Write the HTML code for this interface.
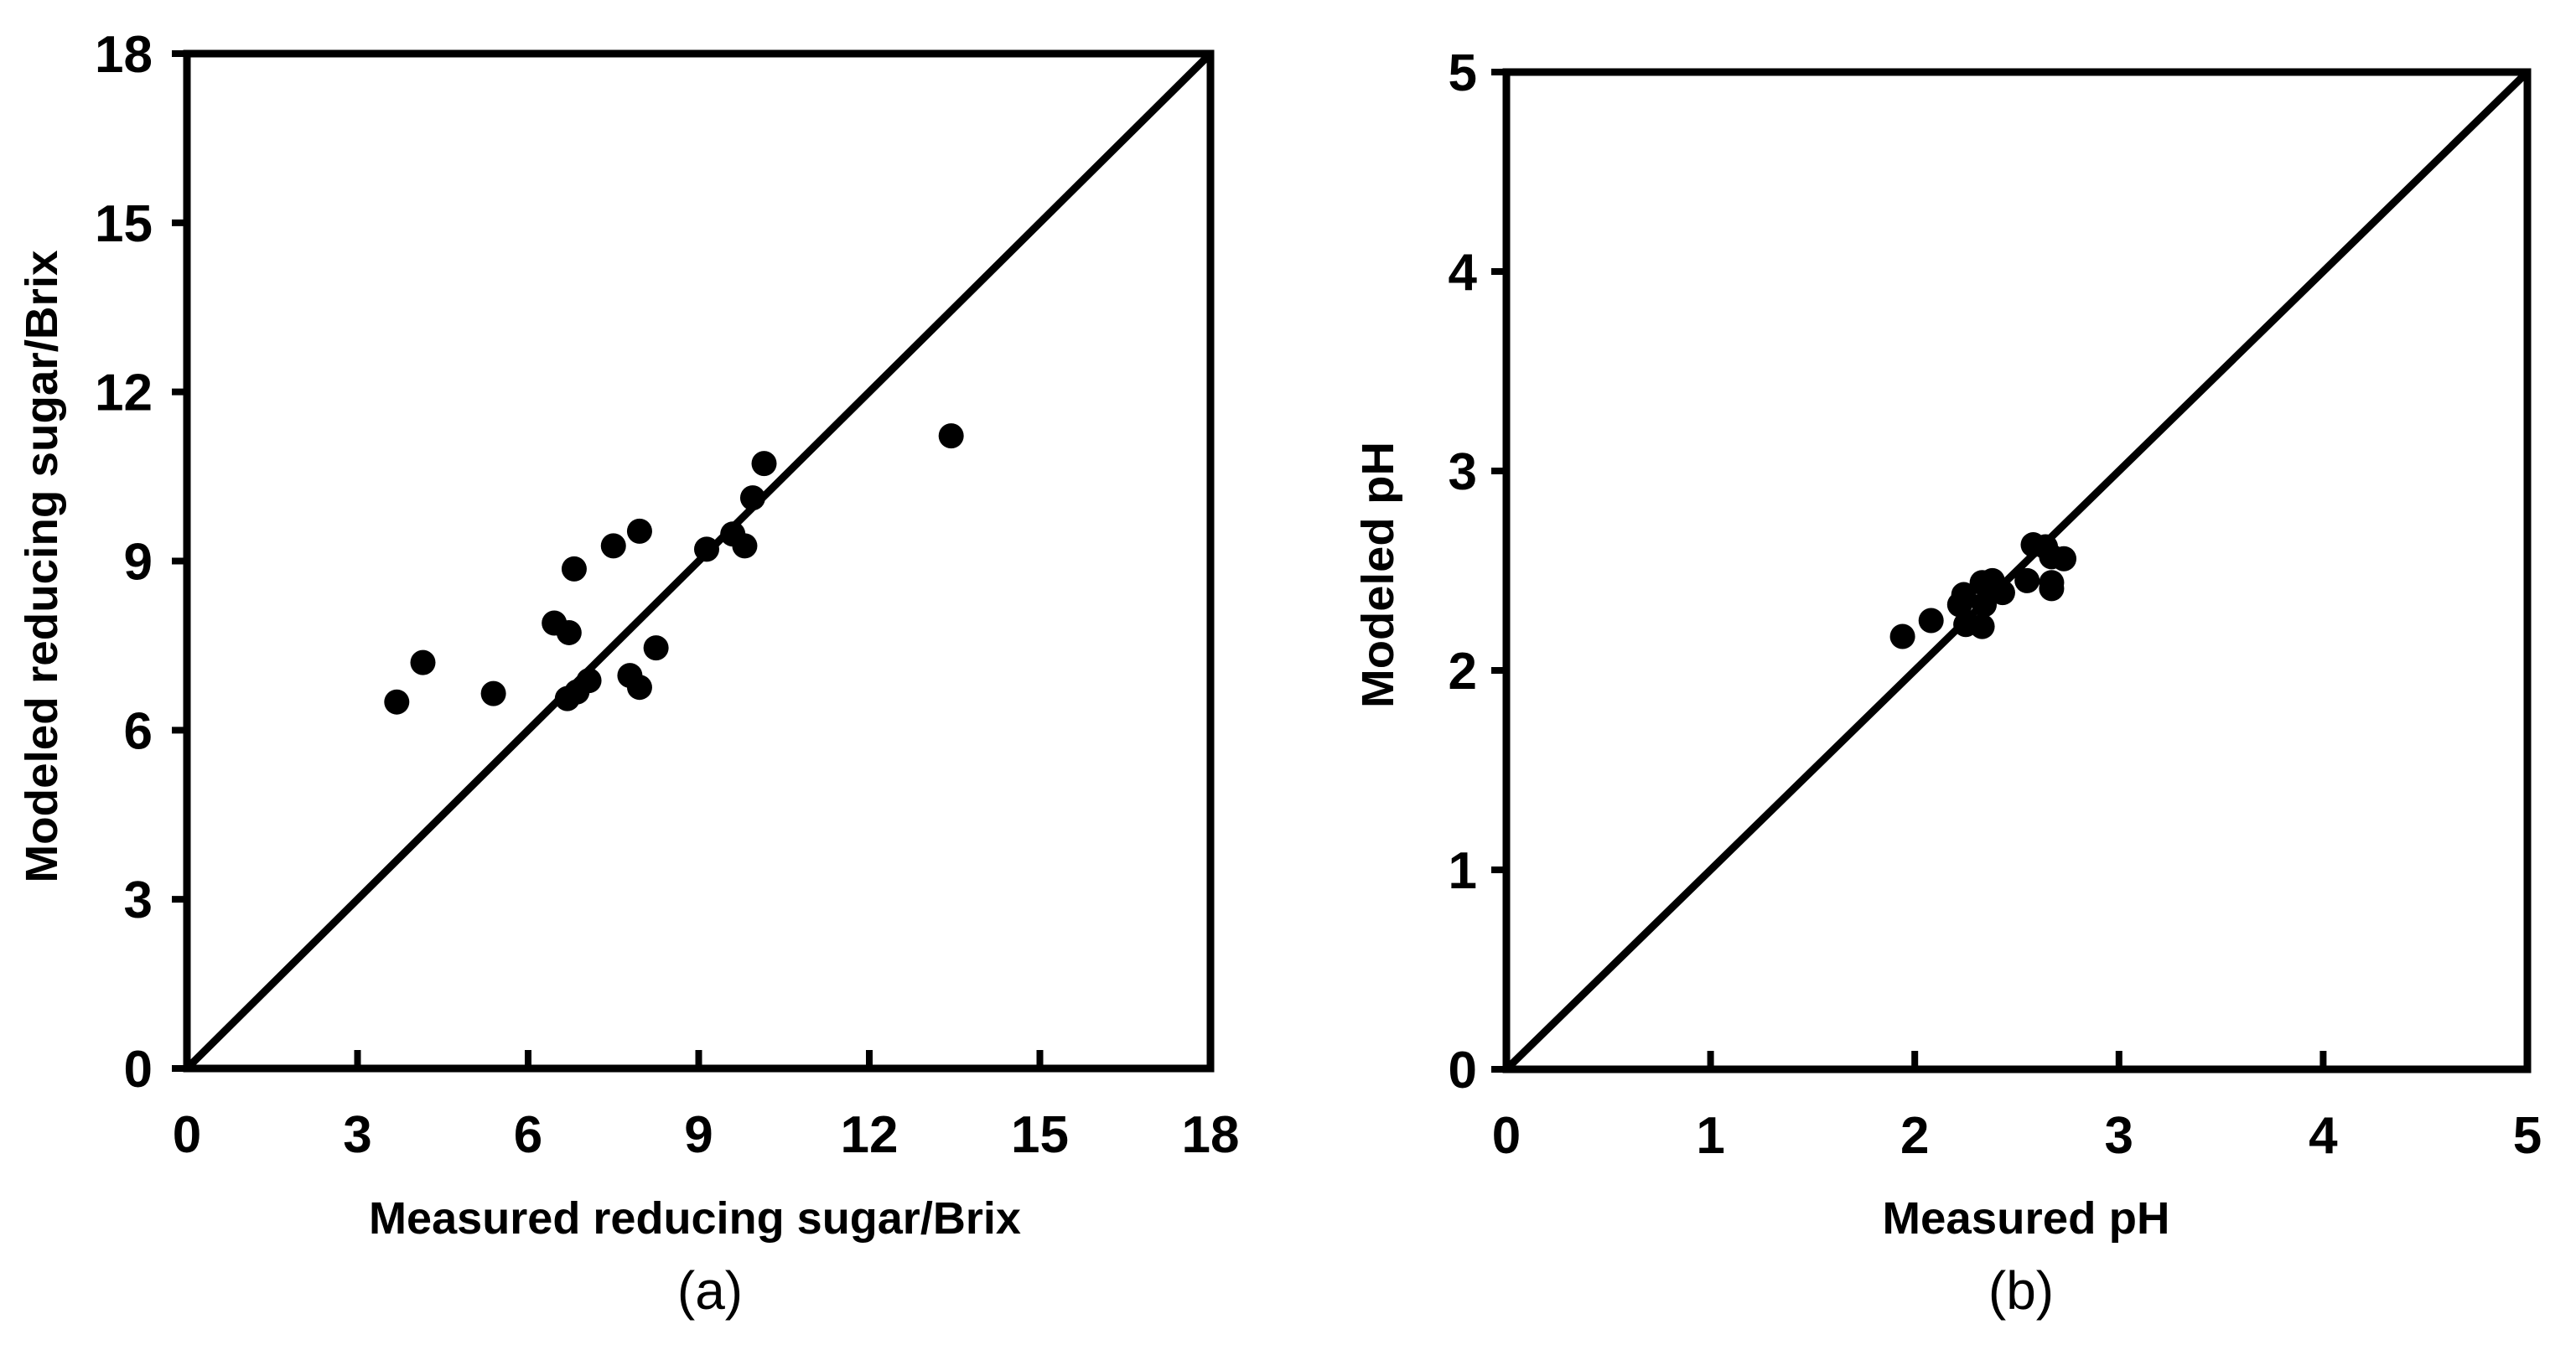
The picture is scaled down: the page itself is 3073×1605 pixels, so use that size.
<!DOCTYPE html>
<html><head><meta charset="utf-8"><style>
html,body{margin:0;padding:0;background:#fff;}
svg{display:block;}
text{font-family:"Liberation Sans",sans-serif;fill:#000;}
.tick{font-weight:bold;font-size:62px;}
.title{font-weight:bold;font-size:54px;}
.cap{font-size:64px;}
</style></head><body>
<svg id="fig" width="3073" height="1605" viewBox="0 0 3073 1605"></svg>
<script>
const aMeasured=[3.69,4.15,5.39,6.46,6.72,6.81,6.69,6.86,7.07,7.50,7.96,7.79,7.96,8.25,9.14,9.60,9.81,9.95,10.15,13.44];
const aModeled=[6.50,7.20,6.65,7.90,7.73,8.86,6.56,6.68,6.88,9.27,9.53,6.97,6.76,7.46,9.21,9.48,9.27,10.12,10.73,11.22];
const aTicks=[0,3,6,9,12,15,18];
const bMeasured=[1.94,2.08,2.22,2.24,2.25,2.33,2.34,2.33,2.38,2.43,2.55,2.58,2.64,2.67,2.73,2.67,2.67];
const bModeled=[2.17,2.25,2.33,2.38,2.23,2.22,2.33,2.44,2.45,2.39,2.45,2.63,2.62,2.57,2.56,2.44,2.41];
const bTicks=[0,1,2,3,4,5];

const NS="http://www.w3.org/2000/svg";
const svg=document.getElementById('fig');
function mk(tag,attrs,parent){const e=document.createElementNS(NS,tag);for(const k in attrs)e.setAttribute(k,attrs[k]);(parent||svg).appendChild(e);return e;}

function panel(cfg){
  const g=mk('g',{});
  
  
  const sx=v=>cfg.x0+(v-cfg.min)/(cfg.max-cfg.min)*(cfg.x1-cfg.x0);
  const sy=v=>cfg.y0-(v-cfg.min)/(cfg.max-cfg.min)*(cfg.y0-cfg.y1);
  const d=mk('line',{x1:sx(cfg.min),y1:sy(cfg.min),x2:sx(cfg.max),y2:sy(cfg.max),stroke:'#000','stroke-width':9},g);
  
  
  const f=mk('rect',{x:cfg.x0,y:cfg.y1,width:cfg.x1-cfg.x0,height:cfg.y0-cfg.y1,fill:'none',stroke:'#000','stroke-width':9},g);
  
  
  cfg.ticks.forEach(t=>{
    const tx=mk('line',{x1:sx(t),y1:cfg.y0,x2:sx(t),y2:cfg.y0-22,stroke:'#000','stroke-width':8},g);
    
    
    const ty=mk('line',{x1:cfg.x0,y1:sy(t),x2:cfg.x0-18,y2:sy(t),stroke:'#000','stroke-width':8},g);
    
    
    const lx=mk('text',{x:sx(t),y:cfg.y0+100,'text-anchor':'middle',class:'tick'},g);
    lx.textContent=t;
    
    
    const ly=mk('text',{x:cfg.ylabX,y:sy(t)+22,'text-anchor':'end',class:'tick'},g);
    ly.textContent=t;
    
    
  });
  cfg.xs.forEach((v,i)=>{
    const c=mk('circle',{cx:sx(v),cy:sy(cfg.ys[i]),r:15,fill:'#000'},g);
    
    
  });
  const xt=mk('text',{x:cfg.xtX,y:1472,'text-anchor':'middle',class:'title',textLength:cfg.xtLen,lengthAdjust:'spacingAndGlyphs'},g);
  xt.textContent=cfg.xTitle;
  
  
  const yt=mk('text',{x:0,y:0,'text-anchor':'middle',class:'title',textLength:cfg.ytLen,lengthAdjust:'spacingAndGlyphs',transform:`translate(${cfg.ytX},${cfg.ytY}) rotate(-90)`},g);
  yt.textContent=cfg.yTitle;
  
  
  const cp=mk('text',{x:cfg.capX,y:1562,'text-anchor':'middle',class:'cap'},g);
  cp.textContent=cfg.cap;
  
  
}

panel({name:'panel-a-sugar',x0:223,x1:1444,y0:1275,y1:64,min:0,max:18,ticks:aTicks,xs:aMeasured,ys:aModeled,
  ylabX:182,xTitle:'Measured reducing sugar/Brix',xtX:829,xtLen:778,yTitle:'Modeled reducing sugar/Brix',ytX:68,ytY:676,ytLen:755,cap:'(a)',capX:847});
panel({name:'panel-b-ph',x0:1797,x1:3015,y0:1276,y1:86,min:0,max:5,ticks:bTicks,xs:bMeasured,ys:bModeled,
  ylabX:1762,xTitle:'Measured pH',xtX:2417,xtLen:343,yTitle:'Modeled pH',ytX:1662,ytY:686,ytLen:318,cap:'(b)',capX:2411});
</script>
</body></html>
